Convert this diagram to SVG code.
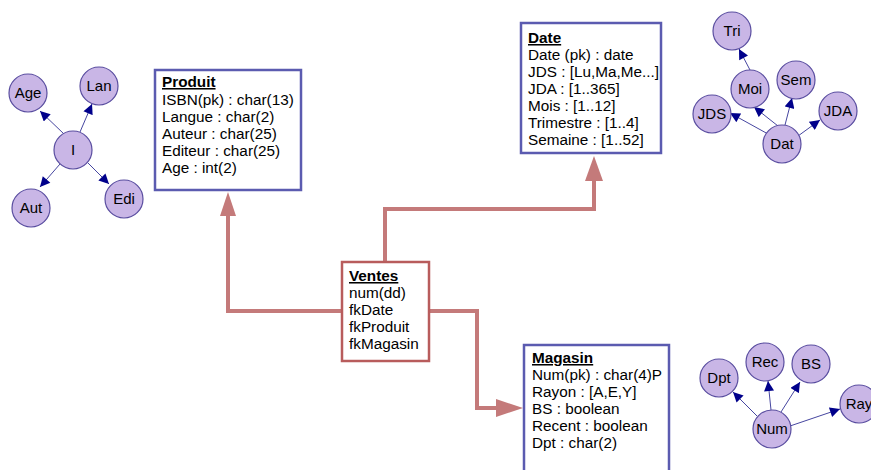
<svg xmlns="http://www.w3.org/2000/svg" width="871" height="470" viewBox="0 0 871 470">
<style>
text{font-family:"Liberation Sans",Arial,sans-serif;font-size:15.3px;fill:#000}
.t{font-weight:bold;text-decoration:underline}
.box{fill:#fff;stroke:#5b5bb0;stroke-width:2.5}
.vbox{fill:#fff;stroke:#b85c5c;stroke-width:2.5}
.conn{fill:none;stroke:#c47a7a;stroke-width:4}
.head{fill:#c47a7a}
.c{fill:#c9b6e6;stroke:#5a4ea0;stroke-width:1.2}
.e{stroke:#4646a0;stroke-width:1;fill:none;marker-end:url(#ah)}
.n{text-anchor:middle;font-size:15px}
</style>
<defs>
<marker id="ah" viewBox="0 0 10 10" refX="10" refY="5" markerWidth="11" markerHeight="10" markerUnits="userSpaceOnUse" orient="auto">
<path d="M0,0 L10,5 L0,10 z" fill="#00008b"/>
</marker>
</defs>
<g id="connectors">
<polyline class="conn" points="342,311 228,311 228,215"/>
<polygon class="head" points="228,192 220,216 236,216"/>
<polyline class="conn" points="385,262 385,209 594,209 594,180"/>
<polygon class="head" points="594,156 585,181 603,181"/>
<polyline class="conn" points="429,311 477,311 477,408 497,408"/>
<polygon class="head" points="523,408 496,399 496,417"/>
<line class="e" x1="64" y1="134" x2="40" y2="111"/>
<line class="e" x1="80" y1="132" x2="92" y2="104"/>
<line class="e" x1="60" y1="164" x2="40" y2="187"/>
<line class="e" x1="88" y1="163" x2="109" y2="184"/>
<line class="e" x1="768" y1="134" x2="730" y2="113"/>
<line class="e" x1="778" y1="126" x2="754" y2="107"/>
<line class="e" x1="750" y1="70" x2="739" y2="49"/>
<line class="e" x1="785" y1="125" x2="792" y2="98"/>
<line class="e" x1="798" y1="136" x2="820" y2="120"/>
<line class="e" x1="757" y1="416" x2="733" y2="392"/>
<line class="e" x1="771" y1="410" x2="768" y2="381"/>
<line class="e" x1="781" y1="412" x2="800" y2="382"/>
<line class="e" x1="790" y1="426" x2="840" y2="409"/>
</g>
<g id="Produit">
<rect class="box" x="155" y="70" width="146" height="120"/>
<text x="162" y="87" class="t">Produit</text>
<text x="162" y="105">ISBN(pk) : char(13)</text>
<text x="162" y="122">Langue : char(2)</text>
<text x="162" y="139">Auteur : char(25)</text>
<text x="162" y="156">Editeur : char(25)</text>
<text x="162" y="173">Age : int(2)</text>
</g>
<g id="Date">
<rect class="box" x="521" y="23" width="140" height="130"/>
<text x="528" y="43" class="t">Date</text>
<text x="528" y="60">Date (pk) : date</text>
<text x="528" y="77">JDS : [Lu,Ma,Me...]</text>
<text x="528" y="94">JDA : [1..365]</text>
<text x="528" y="111">Mois : [1..12]</text>
<text x="528" y="128">Trimestre : [1..4]</text>
<text x="528" y="145">Semaine : [1..52]</text>
</g>
<g id="Ventes">
<rect class="vbox" x="342" y="262" width="87" height="99"/>
<text x="349" y="281" class="t">Ventes</text>
<text x="349" y="298">num(dd)</text>
<text x="349" y="315">fkDate</text>
<text x="349" y="332">fkProduit</text>
<text x="349" y="349">fkMagasin</text>
</g>
<g id="Magasin">
<rect class="box" x="524" y="345" width="145" height="135"/>
<text x="532" y="363" class="t">Magasin</text>
<text x="532" y="380">Num(pk) : char(4)P</text>
<text x="532" y="397">Rayon : [A,E,Y]</text>
<text x="532" y="414">BS : boolean</text>
<text x="532" y="431">Recent : boolean</text>
<text x="532" y="448">Dpt : char(2)</text>
</g>
<g id="g-Age"><circle class="c" cx="28" cy="93" r="19"/><text class="n" x="28" y="98">Age</text></g>
<g id="g-Lan"><circle class="c" cx="99" cy="86" r="19"/><text class="n" x="99" y="91">Lan</text></g>
<g id="g-I"><circle class="c" cx="73" cy="150" r="19"/><text class="n" x="73" y="155">I</text></g>
<g id="g-Aut"><circle class="c" cx="31" cy="208" r="19"/><text class="n" x="31" y="213">Aut</text></g>
<g id="g-Edi"><circle class="c" cx="124" cy="199" r="19"/><text class="n" x="124" y="204">Edi</text></g>
<g id="g-Tri"><circle class="c" cx="732" cy="31" r="19"/><text class="n" x="732" y="36">Tri</text></g>
<g id="g-Moi"><circle class="c" cx="750" cy="89" r="19"/><text class="n" x="750" y="94">Moi</text></g>
<g id="g-Sem"><circle class="c" cx="796" cy="80" r="19"/><text class="n" x="796" y="85">Sem</text></g>
<g id="g-JDS"><circle class="c" cx="712" cy="114" r="19"/><text class="n" x="712" y="119">JDS</text></g>
<g id="g-JDA"><circle class="c" cx="838" cy="111" r="19"/><text class="n" x="838" y="116">JDA</text></g>
<g id="g-Dat"><circle class="c" cx="782" cy="144" r="19"/><text class="n" x="782" y="149">Dat</text></g>
<g id="g-Dpt"><circle class="c" cx="719" cy="378" r="19"/><text class="n" x="719" y="383">Dpt</text></g>
<g id="g-Rec"><circle class="c" cx="765" cy="362" r="19"/><text class="n" x="765" y="367">Rec</text></g>
<g id="g-BS"><circle class="c" cx="811" cy="364" r="19"/><text class="n" x="811" y="369">BS</text></g>
<g id="g-Num"><circle class="c" cx="772" cy="429" r="19"/><text class="n" x="772" y="434">Num</text></g>
<g id="g-Ray"><circle class="c" cx="859" cy="404" r="19"/><text class="n" x="859" y="409">Ray</text></g>
</svg>
